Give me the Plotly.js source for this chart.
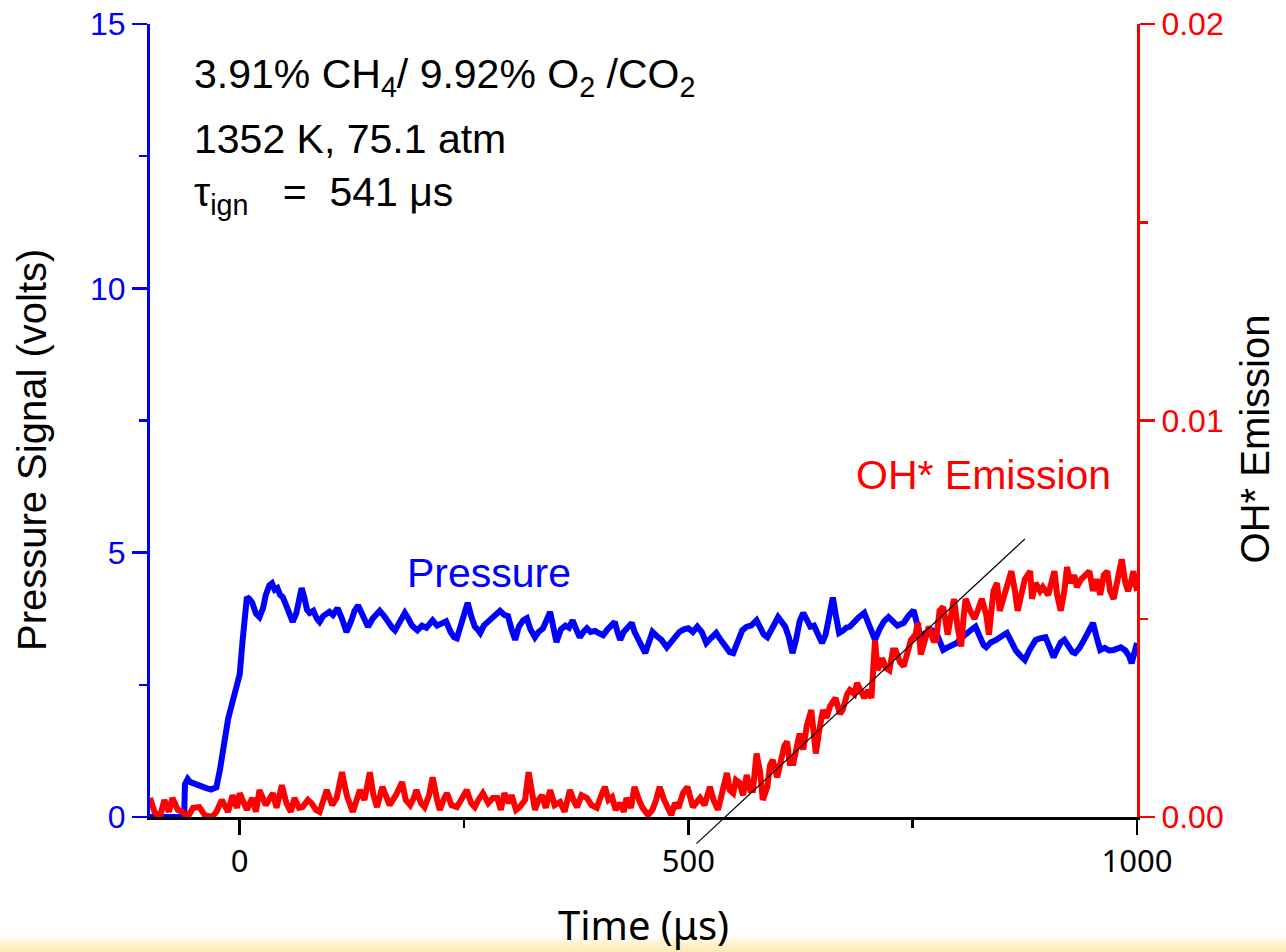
<!DOCTYPE html>
<html>
<head>
<meta charset="utf-8">
<script src="https://cdn.plot.ly/plotly-3.0.1.min.js"></script>
<style>
  html, body { margin: 0; padding: 0; background: #ffffff; }
  #wrap { position: relative; width: 1286px; height: 952px; overflow: hidden; }
  #strip { position: absolute; left: 0; bottom: 0; width: 1286px; height: 16px;
           background: linear-gradient(to bottom, rgba(255,244,210,0) 0%, #fff3cf 45%, #ffe9b3 100%); }
  #chart { position: absolute; left: 0; top: 0; width: 1286px; height: 952px; }
</style>
</head>
<body>
<div id="wrap">
  <div id="strip"></div>
  <div id="chart"></div>
</div>
<script>
// Pressure transducer trace (volts) versus time (microseconds)
const pressureTime = [-100,-62,-61,-58,-55,-50,-44,-38,-32,-26,-22,-17,-13,-10,-6,-2,0,3,6,8,11,14,18,22,26,29,33,36,39,42,45,48,53,56,59,63,66,69,72,75,78,82,86,89,93,97,100,104,109,114,119,124,128,132,137,140,143,148,152,156,161,166,170,173,178,184,188,192,198,203,208,212,215,220,226,230,235,239,242,246,250,254,258,262,265,268,272,277,282,286,290,295,299,303,307,311,316,320,324,329,333,338,342,346,350,353,358,363,367,371,375,379,383,387,391,396,400,405,410,414,418,421,424,428,433,437,440,443,447,452,456,460,465,470,476,480,485,490,495,500,505,510,515,520,525,531,536,542,546,550,555,560,565,570,576,580,584,588,592,596,600,604,608,612,616,620,624,628,632,636,640,645,649,653,657,661,664,668,672,676,680,685,690,696,700,704,708,713,718,723,728,733,737,740,745,751,755,759,764,769,772,776,780,784,788,793,799,804,808,812,816,820,825,829,832,837,843,848,852,855,860,865,870,875,880,884,887,892,898,903,907,912,915,919,924,928,931,936,941,946,951,955,959,964,969,974,978,982,987,991,994,997,1000];
const pressureVolts = [0,0,0.62,0.72,0.66,0.62,0.58,0.55,0.52,0.56,0.9,1.5,1.85,2.05,2.3,2.5,2.7,3.3,4.0,4.16,4.12,4.05,3.85,3.78,3.95,4.2,4.38,4.42,4.3,4.33,4.2,4.16,3.95,3.78,3.69,3.85,4.15,4.33,4.15,3.92,3.86,3.9,3.75,3.69,3.8,3.84,3.88,3.82,3.95,3.75,3.5,3.7,3.9,4.0,3.8,3.65,3.6,3.75,3.82,3.9,3.8,3.65,3.58,3.53,3.7,3.86,3.75,3.62,3.53,3.62,3.58,3.66,3.72,3.62,3.67,3.7,3.5,3.4,3.38,3.6,3.85,4.05,3.8,3.6,3.55,3.48,3.62,3.7,3.78,3.86,3.9,3.82,3.8,3.55,3.35,3.6,3.72,3.76,3.55,3.4,3.5,3.57,3.75,3.88,3.55,3.31,3.55,3.62,3.58,3.72,3.55,3.4,3.5,3.57,3.5,3.52,3.48,3.44,3.55,3.62,3.69,3.5,3.35,3.5,3.58,3.67,3.5,3.4,3.3,3.1,3.3,3.5,3.42,3.35,3.21,3.3,3.42,3.5,3.55,3.57,3.5,3.6,3.5,3.29,3.38,3.48,3.35,3.19,3.12,3.1,3.3,3.53,3.6,3.62,3.72,3.6,3.45,3.4,3.55,3.65,3.78,3.7,3.6,3.4,3.1,3.35,3.7,3.86,3.72,3.6,3.62,3.45,3.29,3.45,3.8,4.15,3.85,3.48,3.52,3.58,3.6,3.7,3.78,3.86,3.7,3.5,3.35,3.55,3.7,3.78,3.7,3.62,3.65,3.67,3.8,3.91,3.65,3.4,3.48,3.5,3.53,3.5,3.3,3.16,3.2,3.25,3.29,3.38,3.45,3.48,3.55,3.6,3.4,3.25,3.21,3.3,3.35,3.42,3.45,3.48,3.3,3.15,3.05,2.97,3.15,3.3,3.35,3.38,3.4,3.2,3.02,3.2,3.3,3.35,3.2,3.12,3.1,3.2,3.35,3.5,3.67,3.4,3.16,3.2,3.15,3.16,3.2,3.21,3.15,3.05,2.91,3.1,3.29];

// OH* chemiluminescence trace versus time (microseconds)
const ohTime = [-100,-95,-89,-84,-79,-75,-69,-64,-58,-52,-45,-39,-31,-26,-20,-13,-8,-3,0,8,14,18,22,29,37,41,47,52,57,61,66,70,76,80,85,89,97,103,108,114,118,120,126,130,134,139,145,149,153,159,164,167,174,181,185,190,194,197,202,206,211,215,220,223,227,231,236,242,248,253,258,262,266,271,277,282,287,291,295,300,303,308,312,318,322,326,329,333,337,341,346,351,357,362,368,372,376,381,387,392,398,403,407,411,415,419,424,428,431,436,440,445,449,455,460,464,468,473,476,481,485,489,494,499,505,510,513,518,524,528,533,537,543,546,550,553,557,561,565,569,572,576,580,583,588,591,594,599,602,607,610,613,617,621,624,628,632,637,640,642,646,650,654,658,664,669,672,677,680,685,688,692,696,700,704,708,711,716,720,724,728,731,736,740,745,748,753,756,759,764,768,773,776,780,784,789,793,796,800,804,807,809,814,819,824,827,832,835,840,844,847,853,860,864,867,871,875,881,883,887,892,895,901,908,911,915,919,922,926,930,933,938,942,947,951,955,959,963,967,970,974,979,983,987,990,993,996,1000];
const ohEmission = [0.00048,0.00013,0,0.00043,0.00013,0.00048,0.00018,0.00013,0,0.00023,0.00025,0.00005,0,0.00013,0.00043,0.00013,0.00055,0.00023,0.0006,0.00018,0.00048,0.00013,0.00068,0.0003,0.0006,0.00023,0.0008,0.00035,0.00013,0.00048,0.00023,0.00025,0.00043,0.00035,0.00018,0.00013,0.00068,0.0003,0.00048,0.00113,0.00068,0.0005,0.00013,0.00043,0.00068,0.00043,0.00113,0.00055,0.00025,0.00076,0.00043,0.0003,0.00055,0.00088,0.00043,0.0003,0.00048,0.00068,0.00035,0.00025,0.00055,0.001,0.00043,0.00018,0.00043,0.0006,0.0003,0.00025,0.00048,0.00068,0.00035,0.00025,0.00043,0.0006,0.00035,0.00048,0.00048,0.00018,0.0006,0.00035,0.00055,0.00018,0.00025,0.00043,0.00113,0.0005,0.00018,0.00043,0.00055,0.00023,0.00068,0.0003,0.00038,0.00013,0.00068,0.00043,0.00025,0.00055,0.00048,0.0003,0.00023,0.00055,0.00076,0.00043,0.0005,0.00018,0.00035,0.00013,0.00048,0.00023,0.00076,0.00043,0.00023,0.00005,0.00018,0.00043,0.00076,0.00043,0.00025,0.00005,0.00035,0.00023,0.0006,0.00076,0.00025,0.00043,0.00048,0.0003,0.00076,0.00043,0.00018,0.00055,0.00111,0.00068,0.0006,0.00093,0.00086,0.00055,0.00106,0.00068,0.00068,0.0016,0.00113,0.00043,0.00076,0.0013,0.00144,0.001,0.0013,0.0018,0.0019,0.00136,0.00136,0.0018,0.0021,0.0017,0.0023,0.0027,0.0021,0.0016,0.0022,0.0027,0.0025,0.0028,0.003,0.0026,0.0027,0.0031,0.0032,0.0031,0.00338,0.0032,0.003,0.0032,0.003,0.00446,0.0037,0.004,0.00376,0.0037,0.0042,0.0042,0.0039,0.0038,0.0043,0.00446,0.0046,0.0049,0.0041,0.00446,0.0048,0.00446,0.00446,0.0052,0.0053,0.0046,0.0051,0.0055,0.0048,0.0043,0.0051,0.0055,0.0052,0.005,0.0053,0.0055,0.0051,0.0046,0.0057,0.0059,0.0052,0.0057,0.0062,0.0057,0.0052,0.0056,0.006,0.0062,0.0055,0.0059,0.0057,0.0058,0.0056,0.0062,0.0056,0.0052,0.0057,0.0063,0.0059,0.0061,0.0058,0.006,0.0061,0.0062,0.0057,0.006,0.0056,0.0061,0.0062,0.0057,0.0055,0.006,0.0065,0.0059,0.0057,0.0059,0.0062,0.0057];

// Tangent through the steepest OH* rise; it meets zero at the ignition time
const tangentTime = [509, 875];
const tangentOH = [-0.00067, 0.00701];

// Axis tick labels
const timeTicks = [0, 500, 1000];
const pressureTicks = [0, 5, 10, 15];
const ohTicks = [0, 0.01, 0.02];
const ohTickText = ['0.00', '0.01', '0.02'];

const sans = 'Liberation Sans, Arial, sans-serif';
const xFont = 'Noto Sans, Open Sans, sans-serif';
const BLUE = '#0000ff', RED = '#ff0000';

// the tangent line lives on a hidden subplot that reaches a little below the time axis
const plotH = 952 - 24 - 107;
const dropFrac = 28 / plotH;
const ohRange = [0, 0.02];
const y3Low = -ohRange[1] * dropFrac / (1 - dropFrac);

const traces = [
  { x: pressureTime, y: pressureVolts, xaxis: 'x', yaxis: 'y', mode: 'lines',
    line: { color: BLUE, width: 6 }, hoverinfo: 'skip' },
  { x: ohTime, y: ohEmission, xaxis: 'x', yaxis: 'y2', mode: 'lines',
    line: { color: RED, width: 6 }, hoverinfo: 'skip' },
  { x: tangentTime, y: tangentOH, xaxis: 'x3', yaxis: 'y3', mode: 'lines',
    line: { color: '#000000', width: 1.2 }, hoverinfo: 'skip' }
];

const layout = {
  width: 1286, height: 952,
  margin: { l: 150, r: 149, t: 24, b: 107 },
  paper_bgcolor: 'rgba(0,0,0,0)', plot_bgcolor: 'rgba(0,0,0,0)',
  showlegend: false,
  font: { family: sans, color: '#000' },
  xaxis: {
    range: [-100, 1000], domain: [0, 1], anchor: 'y',
    tickvals: timeTicks, ticks: 'outside', ticklen: 15, tickwidth: 2.5, tickcolor: '#000',
    minor: { dtick: 250, tick0: 0, ticks: 'outside', ticklen: 8, tickwidth: 2.5, tickcolor: '#000', showgrid: false },
    showline: true, linecolor: '#000', linewidth: 3,
    showgrid: false, zeroline: false,
    tickfont: { family: xFont, size: 31, color: '#000' },
    title: { text: 'Time (\u03bcs)', font: { family: xFont, size: 40, color: '#000' }, standoff: 38 }
  },
  xaxis4: {
    range: [-100, 1000], overlaying: 'x', side: 'top', anchor: 'y',
    tickvals: timeTicks, ticks: 'inside', ticklen: 15, tickwidth: 2.5, tickcolor: '#000',
    minor: { dtick: 250, tick0: 0, ticks: 'inside', ticklen: 15, tickwidth: 2.5, tickcolor: '#000', showgrid: false },
    showticklabels: false, showline: true, linecolor: '#000', linewidth: 3,
    showgrid: false, zeroline: false
  },
  yaxis: {
    range: [0, 15], domain: [dropFrac, 1], anchor: 'x',
    tickvals: pressureTicks, ticks: 'outside', ticklen: 15, tickwidth: 2.5, tickcolor: BLUE,
    minor: { dtick: 2.5, tick0: 0, ticks: 'outside', ticklen: 8, tickwidth: 2.5, tickcolor: BLUE, showgrid: false },
    showline: true, linecolor: BLUE, linewidth: 3,
    showgrid: false, zeroline: false,
    tickfont: { family: sans, size: 32, color: BLUE }
  },
  yaxis2: {
    range: ohRange, overlaying: 'y', side: 'right', anchor: 'x',
    tickvals: ohTicks, ticktext: ohTickText, ticks: 'outside', ticklen: 15, tickwidth: 2.5, tickcolor: RED,
    minor: { dtick: 0.005, tick0: 0, ticks: 'outside', ticklen: 8, tickwidth: 2.5, tickcolor: RED, showgrid: false },
    showline: true, linecolor: RED, linewidth: 3,
    showgrid: false, zeroline: false,
    tickfont: { family: sans, size: 32, color: RED }
  },
  xaxis3: { range: [-100, 1000], domain: [0, 1], anchor: 'y3', visible: false },
  yaxis3: { range: [y3Low, ohRange[1]], domain: [0, 1], anchor: 'x3', visible: false },
  annotations: [
    { text: 'Pressure Signal (volts)', xref: 'paper', yref: 'paper', x: -0.1196, y: 0.481,
      textangle: -90, showarrow: false, xanchor: 'center', yanchor: 'middle',
      font: { family: sans, size: 40, color: '#000' } },
    { text: 'OH* Emission', xref: 'paper', yref: 'paper', x: 1.1196, y: 0.494,
      textangle: -90, showarrow: false, xanchor: 'center', yanchor: 'middle',
      font: { family: sans, size: 40, color: '#000' } },
    { text: '3.91% CH<sub>4</sub>/ 9.92% O<sub>2</sub> /CO<sub>2</sub>', xref: 'paper', yref: 'paper',
      x: 0.0426, y: 0.9354, showarrow: false, xanchor: 'left', yanchor: 'middle',
      font: { family: sans, size: 41, color: '#000' } },
    { text: '1352 K, 75.1 atm', xref: 'paper', yref: 'paper',
      x: 0.0426, y: 0.8599, showarrow: false, xanchor: 'left', yanchor: 'middle',
      font: { family: sans, size: 41, color: '#000' } },
    { text: '\u03c4<sub>ign</sub>\u00a0\u00a0\u00a0=\u00a0\u00a0541 \u03bcs', xref: 'paper', yref: 'paper',
      x: 0.0426, y: 0.7917, showarrow: false, xanchor: 'left', yanchor: 'middle',
      font: { family: sans, size: 41, color: '#000' } },
    { text: 'Pressure', xref: 'paper', yref: 'paper', x: 0.3435, y: 0.3313,
      showarrow: false, xanchor: 'center', yanchor: 'middle',
      font: { family: sans, size: 41, color: BLUE } },
    { text: 'OH* Emission', xref: 'paper', yref: 'paper', x: 0.844, y: 0.4507,
      showarrow: false, xanchor: 'center', yanchor: 'middle',
      font: { family: sans, size: 41, color: RED } }
  ]
};

Plotly.newPlot('chart', traces, layout, { staticPlot: true, displayModeBar: false });
</script>
</body>
</html>
